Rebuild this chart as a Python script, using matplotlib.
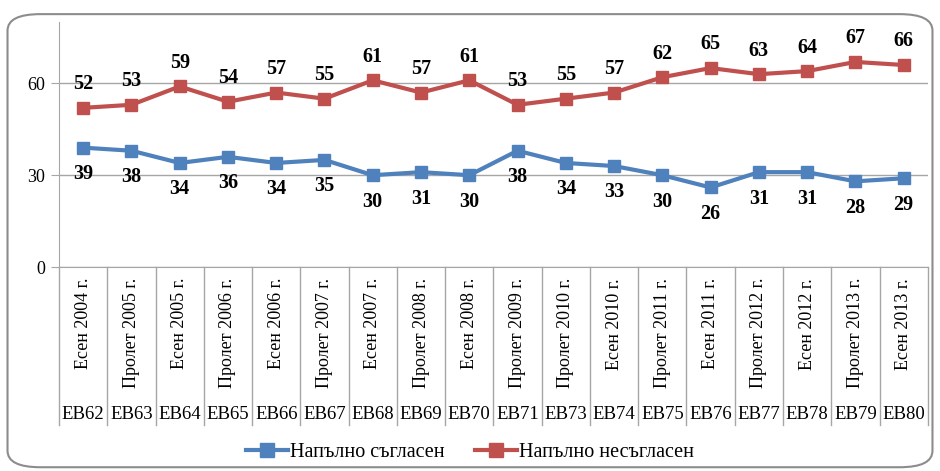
import matplotlib.pyplot as plt
from matplotlib.patches import FancyBboxPatch

plt.rcParams["font.family"] = ["Liberation Serif", "DejaVu Serif"]

# Data
periods = [
    "Есен 2004 г.", "Пролет 2005 г.", "Есен 2005 г.", "Пролет 2006 г.",
    "Есен 2006 г.", "Пролет 2007 г.", "Есен 2007 г.", "Пролет 2008 г.",
    "Есен 2008 г.", "Пролет 2009 г.", "Пролет 2010 г.", "Есен 2010 г.",
    "Пролет 2011 г.", "Есен 2011 г.", "Пролет 2012 г.", "Есен 2012 г.",
    "Пролет 2013 г.", "Есен 2013 г.",
]
surveys = ["EB62", "EB63", "EB64", "EB65", "EB66", "EB67", "EB68", "EB69", "EB70",
           "EB71", "EB73", "EB74", "EB75", "EB76", "EB77", "EB78", "EB79", "EB80"]
agree = [39, 38, 34, 36, 34, 35, 30, 31, 30, 38, 34, 33, 30, 26, 31, 31, 28, 29]
disagree = [52, 53, 59, 54, 57, 55, 61, 57, 61, 53, 55, 57, 62, 65, 63, 64, 67, 66]

blue = "#4F81BD"
red = "#C0504D"
gray = "#A6A6A6"

fig = plt.figure(figsize=(9.4, 4.71), dpi=100)
ax = fig.add_axes([0.0628, 0.433, 0.9242, 0.520])

x = list(range(len(periods)))
ax.plot(x, agree, color=blue, lw=3, marker="s", ms=9, label="Напълно съгласен")
ax.plot(x, disagree, color=red, lw=3, marker="s", ms=9, label="Напълно несъгласен")

for i in x:
    ax.annotate(str(disagree[i]), (i, disagree[i]), xytext=(0, 17), textcoords="offset points",
                ha="center", va="center", fontsize=14.5, fontweight="bold")
    ax.annotate(str(agree[i]), (i, agree[i]), xytext=(0, -19), textcoords="offset points",
                ha="center", va="center", fontsize=14.5, fontweight="bold")

ax.set_xlim(-0.5, len(periods) - 0.5)
ax.set_ylim(0, 80)
ax.set_yticks([0, 30, 60])
ax.yaxis.grid(True, color=gray, lw=1)
ax.set_axisbelow(True)
for s in ["top", "right"]:
    ax.spines[s].set_visible(False)
ax.spines["left"].set_color(gray)
ax.spines["bottom"].set_color(gray)
ax.tick_params(axis="y", length=6, color=gray, labelsize=13, pad=4)
ax.set_xticks([])

# two-level category axis
trans = ax.get_xaxis_transform()
for i in x:
    ax.text(i, -0.045, periods[i], rotation=90, ha="center", va="top",
            fontsize=13, transform=trans)
    ax.text(i, -0.604, surveys[i], ha="center", va="center", fontsize=13.5, transform=trans)
for b in range(len(periods) + 1):
    ax.plot([b - 0.5, b - 0.5], [0, -0.645], color=gray, lw=1, transform=trans, clip_on=False)

ax.legend(loc="center", bbox_to_anchor=(0.5, 0.04), bbox_transform=fig.transFigure,
          ncol=2, frameon=False, fontsize=14.5, handlelength=2.1, columnspacing=1.5,
          handletextpad=0.1, markerscale=1.1)

border = FancyBboxPatch((0.008, 0.008), 0.984, 0.962, boxstyle="round,pad=0,rounding_size=0.035",
                        transform=fig.transFigure, fill=False, ec="#8C8C8C", lw=1.5)
fig.patches.append(border)

fig.savefig("out.png", dpi=100)
